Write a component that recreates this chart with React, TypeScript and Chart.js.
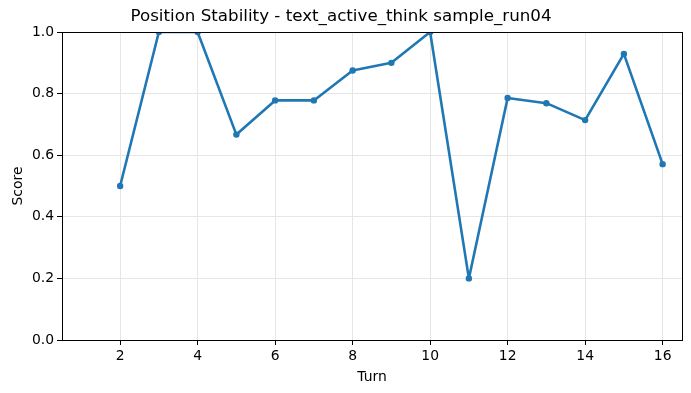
import React, { useEffect, useRef } from "react";
import { Chart, registerables } from "chart.js";

Chart.register(...registerables);

const turns = [2, 3, 4, 5, 6, 7, 8, 9, 10, 11, 12, 13, 14, 15, 16];
const scores = [0.5, 1.0, 1.0, 0.667, 0.778, 0.778, 0.875, 0.9, 1.0, 0.2, 0.786, 0.769, 0.714, 0.929, 0.571];
const xTicks = [2, 4, 6, 8, 10, 12, 14, 16];
const yTicks = [0, 0.2, 0.4, 0.6, 0.8, 1.0];

const FONT = "'DejaVu Sans', sans-serif";

const framePlugin = {
  id: "frame",
  afterDraw(chart: any) {
    const { ctx, chartArea } = chart;
    ctx.save();
    ctx.strokeStyle = "#000";
    ctx.lineWidth = 1;
    ctx.strokeRect(
      Math.round(chartArea.left) + 0.5,
      Math.round(chartArea.top) + 0.5,
      Math.round(chartArea.right - chartArea.left),
      Math.round(chartArea.bottom - chartArea.top)
    );
    ctx.restore();
  },
};

export default function App() {
  const ref = useRef<HTMLCanvasElement | null>(null);

  useEffect(() => {
    document.body.style.margin = "0";
    const canvas = ref.current;
    if (!canvas) return;
    const chart = new Chart(canvas, {
      type: "line",
      data: {
        datasets: [
          {
            data: turns.map((t, i) => ({ x: t, y: scores[i] })),
            borderColor: "#1f77b4",
            backgroundColor: "#1f77b4",
            borderWidth: 2.6,
            borderJoinStyle: "round",
            borderCapStyle: "round",
            pointRadius: 3.2,
            pointBorderWidth: 0,
            pointHoverRadius: 3.2,
            tension: 0,
            fill: false,
          },
        ],
      },
      options: {
        animation: false,
        responsive: false,
        devicePixelRatio: 1,
        layout: { padding: { left: 0, right: 9, top: 0, bottom: 0 } },
        plugins: {
          legend: { display: false },
          tooltip: { enabled: false },
          title: {
            display: true,
            text: "Position Stability - text_active_think sample_run04",
            color: "#000",
            font: { family: FONT, size: 16.7, weight: "normal", lineHeight: 1.2 },
            padding: { top: 7, bottom: 5 },
          },
        },
        scales: {
          x: {
            type: "linear",
            min: 0.5,
            max: 16.5,
            afterBuildTicks: (axis: any) => {
              axis.ticks = xTicks.map((v) => ({ value: v }));
            },
            afterFit: (axis: any) => {
              axis.height = 53;
            },
            ticks: {
              color: "#000",
              font: { family: FONT, size: 13.9 },
              padding: 3,
              maxRotation: 0,
              callback: (v: any) => String(v),
            },
            grid: {
              color: "#e6e6e6",
              lineWidth: 1,
              drawTicks: true,
              tickLength: 5,
              tickColor: "#000",
            },
            border: { display: true, color: "#000", width: 1 },
            title: {
              display: true,
              text: "Turn",
              color: "#000",
              font: { family: FONT, size: 13.9, lineHeight: 1.2 },
              padding: { top: 0, bottom: 7 },
            },
          },
          y: {
            type: "linear",
            min: 0,
            max: 1,
            afterBuildTicks: (axis: any) => {
              axis.ticks = yTicks.map((v) => ({ value: v }));
            },
            afterFit: (axis: any) => {
              axis.width = 62;
            },
            ticks: {
              color: "#000",
              font: { family: FONT, size: 13.9 },
              padding: 3,
              callback: (v: any) => Number(v).toFixed(1),
            },
            grid: {
              color: "#e6e6e6",
              lineWidth: 1,
              drawTicks: true,
              tickLength: 5,
              tickColor: "#000",
            },
            border: { display: true, color: "#000", width: 1 },
            title: {
              display: true,
              text: "Score",
              color: "#000",
              font: { family: FONT, size: 13.9, lineHeight: 1.2 },
              padding: { top: 10, bottom: 0 },
            },
          },
        },
      },
      plugins: [framePlugin],
    } as any);
    return () => chart.destroy();
  }, []);

  return (
    <div style={{ position: "absolute", left: 0, top: 0, width: 691, height: 393 }}>
      <canvas ref={ref} width={691} height={393} style={{ width: 691, height: 393 }} />
    </div>
  );
}
